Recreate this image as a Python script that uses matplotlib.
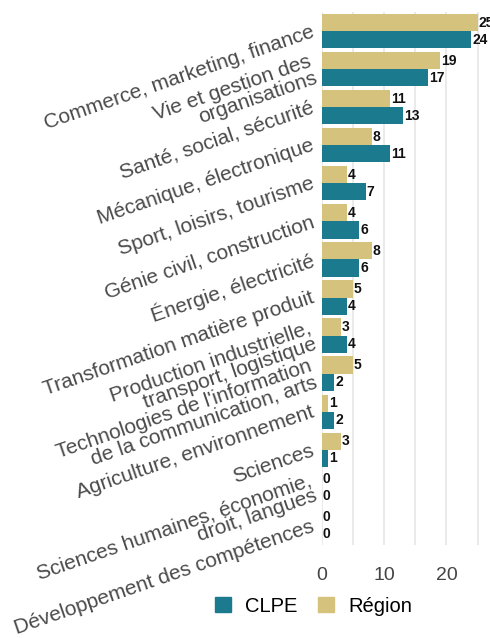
import matplotlib
matplotlib.use("Agg")
import matplotlib.pyplot as plt
from matplotlib.patches import Patch
import numpy as np

plt.rcParams['font.family'] = ['Liberation Sans', 'DejaVu Sans']

categories = [
    "Commerce, marketing, finance",
    "Vie et gestion des\norganisations",
    "Santé, social, sécurité",
    "Mécanique, électronique",
    "Sport, loisirs, tourisme",
    "Génie civil, construction",
    "Énergie, électricité",
    "Transformation matière produit",
    "Production industrielle,\ntransport, logistique",
    "Technologies de l'information\nde la communication, arts",
    "Agriculture, environnement",
    "Sciences",
    "Sciences humaines, économie,\ndroit, langues",
    "Développement des compétences",
]
region = [25, 19, 11, 8, 4, 4, 8, 5, 3, 5, 1, 3, 0, 0]
clpe = [24, 17, 13, 11, 7, 6, 6, 4, 4, 2, 2, 1, 0, 0]

col_clpe = "#1b7a8d"
col_region = "#d5c27c"

fig = plt.figure(figsize=(4.9, 6.38), dpi=100)
ax = fig.add_axes([0.657, 0.146, 0.343, 0.835])

y = np.arange(len(categories))
h = 0.45
ax.barh(y - h / 2, region, height=h, color=col_region)
ax.barh(y + h / 2, clpe, height=h, color=col_clpe)

for yi, v in zip(y, region):
    ax.text(v + 0.15, yi - h / 2, str(v), va="center", ha="left",
            fontsize=10, fontweight="bold", color="#111111")
for yi, v in zip(y, clpe):
    ax.text(v + 0.15, yi + h / 2, str(v), va="center", ha="left",
            fontsize=10, fontweight="bold", color="#111111")

ax.set_xlim(0, 27)
ax.set_ylim(len(categories) - 0.5, -0.5)
ax.set_xticks([0, 10, 20])
ax.set_xticks([5, 15, 25], minor=True)
ax.grid(axis="x", which="both", color="#e6e6e6", linewidth=1.2)
ax.set_axisbelow(True)
for s in ax.spines.values():
    s.set_visible(False)
ax.tick_params(axis="x", which="both", length=0, pad=16, labelsize=14,
               labelcolor="#444444")
ax.set_yticks(y)
ax.set_yticklabels(categories, rotation=19, ha="right", va="center",
                   rotation_mode="anchor", fontsize=15, color="#4a4a4a",
                   linespacing=0.85)
ax.tick_params(axis="y", length=0, pad=6)

handles = [Patch(color=col_clpe, label="CLPE"),
           Patch(color=col_region, label="Région")]
fig.legend(handles=handles, loc="center", bbox_to_anchor=(0.64, 0.05),
           ncol=2, frameon=False, fontsize=14.5, handlelength=0.8,
           handleheight=0.8, columnspacing=1.0, handletextpad=0.7)

fig.savefig("out.png", dpi=100, facecolor="white")
